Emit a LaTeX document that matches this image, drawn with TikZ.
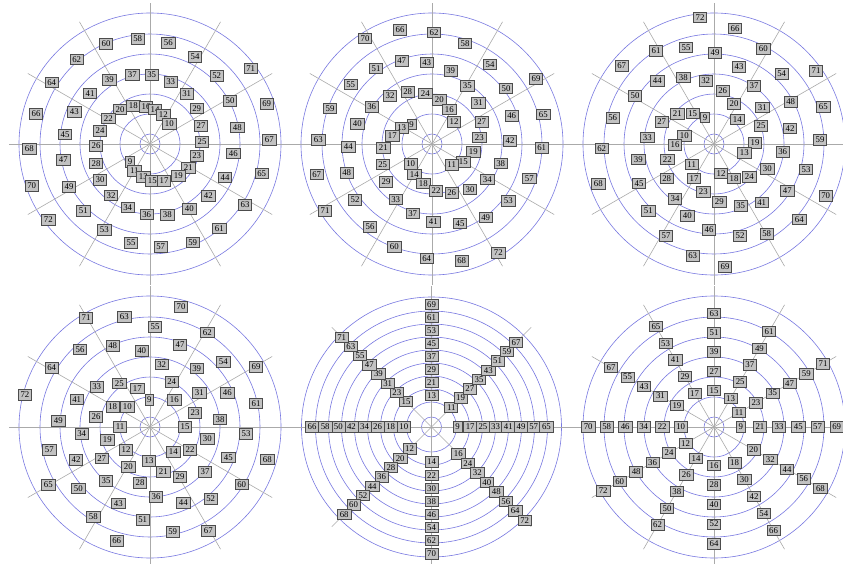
\documentclass[tikz,border=0pt]{standalone}
\usepackage{fontspec}
\setmainfont{Liberation Serif}
\definecolor{ringc}{RGB}{120,120,225}
\definecolor{spokec}{RGB}{170,170,170}
\newcommand\putlabels[4]{%
  \foreach \n/\zx/\zy in {#4} \node[lbl] (#1-\n) at ({\zx/3+#2},{\zy/3+#3}) {\n};}
\begin{document}
\begin{tikzpicture}[x=0.75pt,y=-0.75pt,
  ring/.style={draw=ringc,line width=0.45pt},
  spoke/.style={draw=spokec,line width=0.45pt},
  lbl/.style={draw=black!70,fill=black!24,line width=0.5pt,inner xsep=1.7pt,inner ysep=0pt,minimum height=7.8pt,font=\fontsize{6.6}{6.6}\selectfont}]
\useasboundingbox[fill=white] (0,0) rectangle (843,564);
% centres
\coordinate (c1) at (150,144);
\coordinate (c2) at (432,144);
\coordinate (c3) at (714,144);
\coordinate (c4) at (150,427);
\coordinate (c5) at (431.5,427);
\coordinate (c6) at (714,427);
% grids with 12 spokes and 7 rings
\foreach \c in {c1,c2,c3,c4,c6}{
  \foreach \r in {10,30,50,70,90,110,131}
    \draw[ring] (\c) circle[radius={\r*0.75pt}];
  \foreach \a in {0,30,...,330}
    \draw[spoke] (\c) -- ++(\a:141);
}
% grid 5: 8 spokes, 10 rings
\foreach \r in {10,25,38,51,64,77,90,103,116,130}
  \draw[ring] (c5) circle[radius={\r*0.75pt}];
\foreach \a in {0,45,...,315}
  \draw[spoke] (c5) -- ++(\a:141);
% panel 1
\putlabels{p1}{0}{0}{58/413/117,56/505/128,60/318/132,54/585/170,62/230/178,71/752/205,52/650/228,37/397/225,35/455/225,33/512/245,39/328/240,64/155/247,31/560/282,41/270/280,50/690/302,69/800/312,29/590/325,18/400/318,16/438/320,14/465/328,20/360/328,12/490/345,43/223/335,66/108/342,22/325/355,10/508/372,27/603/377,48/712/382,24/300/392,45/195/403,25/606/425,67/808/420,26/288/437,68/88/447,46/700/460,23/590/468,47/190/480,9/390/486,28/288/490,21/565/503,11/403/512,65/785/520,19/535/528,44/675/532,13/430/530,15/457/542,17/492/542,30/300/540,70/95/557,49/207/560,42/625/588,32/333/586,63/735/615,34/383/622,40/568/627,51/250/632,36/440/643,38/502/645,72/145/660,61/658/685,53/313/690,59/578/727,55/393/728,57/482/740}
% panel 2
\putlabels{p2}{280}{0}{70/255/115,66/360/90,62/462/97,58/555/130,54/630/193,47/365/182,43/440/187,51/288/205,39/512/212,69/768/237,55/212/253,35/562/258,50/678/265,32/330/287,28/383/275,24/436/280,20/478/300,31/595/308,59/150/325,36/275/320,16/508/328,46/695/347,65/790/343,12/522/365,27/605/365,9/395/373,13/365/383,40/232/372,17/337/408,23/598/412,63/115/420,42/690/422,44/205/440,21/310/443,61/785/443,19/580/455,15/550/485,11/515/495,10/392/492,25/308/493,38/662/490,67/110/523,48/200/518,14/403/523,34/622/538,57/748/535,29/318/545,18/430/550,22/468/573,26/515/578,30/570/568,52/225/600,33/347/598,53/685/603,71/135/632,37/398/640,41/460/665,45/540/670,49/617/652,56/270/680,72/655/758,60/343/740,64/440/775,68/545/783}
% panel 3
\putlabels{p3}{560}{0}{72/420/52,66/525/85,61/288/152,55/378/142,49/465/158,60/610/147,67/185/197,43/537/200,44/292/242,38/370/232,32/437/242,54/665/222,71/768/212,26/488/272,37/582/258,50/225/288,20/522/312,31/607/322,48/692/305,65/790/320,21/352/342,15/398/340,9/435/352,27/305/365,56/158/353,14/532/358,25/603/378,42/690/385,33/262/412,10/373/408,59/780/420,19/585/428,16/345/435,62/125/445,13/553/458,36/668/455,39/235/478,22/322/478,11/395/493,30/622/507,53/738/508,12/483/520,18/522/535,24/568/530,28/320/535,17/402/535,68/115/552,45/237/550,47/682/572,70/797/587,23/430/575,34/345/597,29/478/605,35/542/618,41/605/607,51/265/632,40/382/648,64/718/658,46/447/690,52/540/707,58/620/702,57/318/708,63/398/767,69/495/800}
% panel 4
\putlabels{p4}{0}{280}{70/543/80,71/258/113,63/373/110,55/465/140,62/622/157,48/338/197,56/240/208,40/425/212,47/540/195,32/485/253,54/670/245,39/590/265,64/155/263,69/768/260,25/358/310,17/412/325,33/290/320,24/515/305,72/75/345,31/598/338,46/682/338,9/448/360,16/523/360,41/230/358,18/338/380,10/382/380,61/768/370,23/585/398,26/288/410,49/175/422,38/660/418,11/360/440,15/555/440,34/245/462,53/738/462,19/322/480,30/622/477,12/378/510,57/148/510,14/520/515,22/570/510,45/685/532,68/802/538,42/228/540,27/305/535,13/447/543,20/385/560,21/490/575,29/540/590,37/615/575,65/145/615,35/318/602,28/420/608,60/725/613,50/235/625,36/468/650,44/550/668,52/632/657,43/355/670,58/280/710,51/428/720,59/518/755,67/625/752,66/350/783}
% panel 5 (eight rays)
\foreach \a/\rz/\st/\lst in {%
  0/26/12.7/{9,17,25,33,41,49,57,65},
  180/27.7/13.1/{10,18,26,34,42,50,58,66},
  90/31.7/13/{13,21,29,37,45,53,61,69},
  270/35/13.1/{14,22,30,38,46,54,62,70},
  45/28/13.1/{11,19,27,35,43,51,59,67},
  135/36/13/{15,23,31,39,47,55,63,71},
  225/31/13.2/{12,20,28,36,44,52,60,68},
  315/38/13.4/{16,24,32,40,48,56,64,72}}{
  \foreach \n [count=\k from 0] in \lst
    \node[lbl] (p5-\n) at ({431.5+(\rz+\k*\st)*cos(\a)},{427-(\rz+\k*\st)*sin(\a)}) {\n};
}
% panel 6 (twelve rays)
\foreach \a/\rz/\st/\lst in {%
  0/26.7/19.2/{9,21,33,45,57,69},
  30/29/19.4/{11,23,35,47,59,71},
  60/33/19.3/{13,25,37,49,61},
  90/36.7/19.2/{15,27,39,51,63},
  120/38.9/19.3/{17,29,41,53,65},
  150/42.8/19/{19,31,43,55,67},
  180/33.3/18.5/{10,22,34,46,58,70},
  210/32.9/19/{12,24,36,48,60,72},
  240/36/19.25/{14,26,38,50,62},
  270/38.3/19.6/{16,28,40,52,64},
  300/41.2/19.5/{18,30,42,54,66},
  330/45.7/19.3/{20,32,44,56,68}}{
  \foreach \n [count=\k from 0] in \lst
    \node[lbl] (p6-\n) at ({714+(\rz+\k*\st)*cos(\a)},{427-(\rz+\k*\st)*sin(\a)}) {\n};
}
\end{tikzpicture}
\end{document}
